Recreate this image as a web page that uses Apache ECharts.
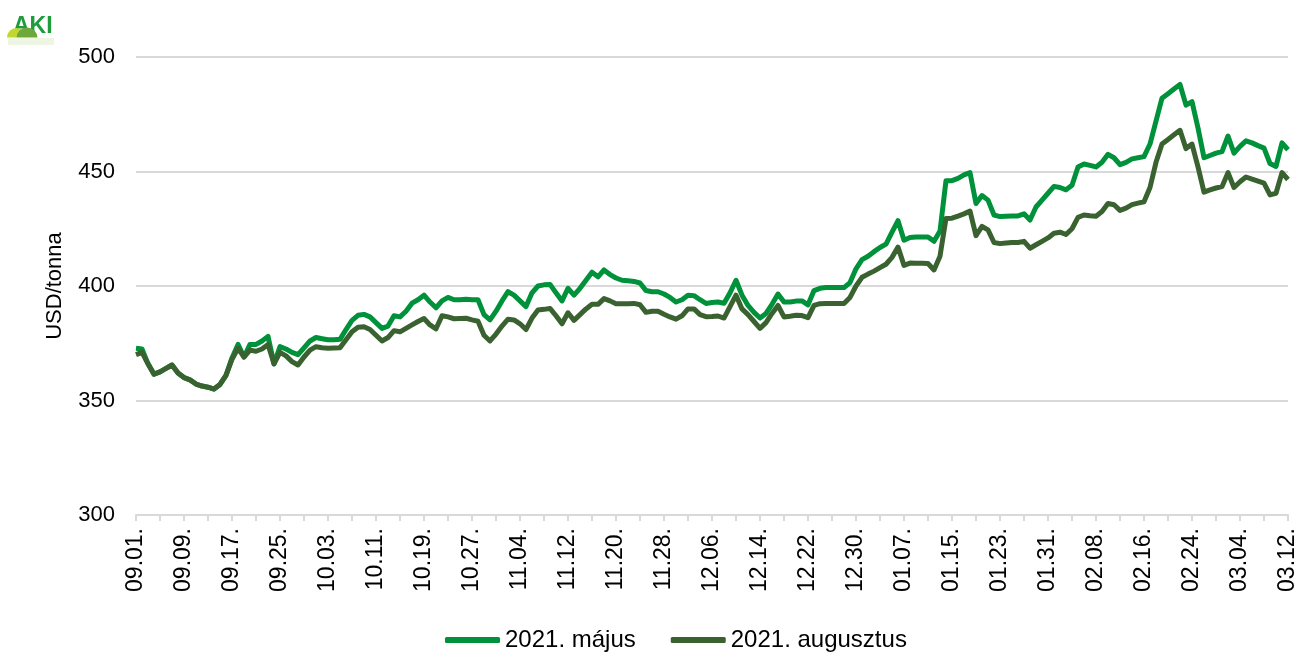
<!DOCTYPE html>
<html>
<head>
<meta charset="utf-8">
<script src="https://cdn.jsdelivr.net/npm/echarts@6/dist/echarts.min.js"></script>
<style>
  html, body { margin: 0; padding: 0; background: #fff; }
  #chart { width: 1300px; height: 655px; }
</style>
</head>
<body>
<div id="chart"></div>
<script>
// napi adatok 2020.09.01. - 2021.03.12. (naptári napok)
const startDate = "2020-09-01";
const dayCount = 193;

const seriesNames = ["2021. május", "2021. augusztus"];

const majus = [
  372.8, 372.5, 366, 361.5, 362.5, 364, 365.5, 362, 360, 359,
  357.2, 356.3, 355.8, 355, 357, 361, 368.6, 374.5, 369, 374.5,
  374.5, 376, 378, 366, 373.5, 372.5, 371, 370, 373, 376,
  377.5, 377, 376.5, 376.5, 376.7, 381, 385, 387.2, 387.6, 386.5,
  384, 381.5, 382.5, 387, 386.5, 389, 392.5, 394, 396, 393,
  390.5, 393.5, 395, 394, 394, 394.2, 394, 394, 387.5, 385.2,
  389, 393.5, 397.5, 396, 393.5, 391, 397, 400, 400.5, 400.7,
  397, 393.5, 399, 396, 399, 402.5, 406, 404, 407, 405,
  403.5, 402.5, 402.3, 402, 401.3, 398, 397.5, 397.5, 396.5, 395,
  393, 394, 396, 395.8, 394, 392.4, 392.8, 393, 392.5, 397,
  402.5, 396, 391.5, 388.5, 386, 388, 392, 396.5, 393, 393,
  393.4, 393.5, 391.8, 398, 399, 399.3, 399.3, 399.3, 399.3, 401.5,
  407.5, 411.5, 413, 415, 416.8, 418.3, 423.5, 428.5, 420, 421.2,
  421.4, 421.4, 421.4, 419.5, 424, 446, 446, 447, 448.5, 449.5,
  436, 439.5, 437.5, 431, 430.3, 430.5, 430.6, 430.6, 431.5, 428.8,
  434.5, 437.5, 440.5, 443.5, 443, 442, 444, 452, 453.3, 452.7,
  452, 454, 457.5, 456, 453, 454, 455.5, 456, 456.5, 462,
  472, 482, 484, 486, 488, 479, 480.5, 469, 456, 457,
  458, 458.7, 465.5, 458, 461, 463.4, 462.5, 461.3, 460.2, 453.5,
  452.2, 462.5, 459.5
];

const augusztus = [
  370, 371, 366, 361.5, 362.5, 364, 365.5, 362, 360, 359,
  357.2, 356.3, 355.8, 355, 357, 361, 368, 372.8, 369, 372,
  371.5, 372.5, 374.4, 366, 371, 369.5, 367, 365.5, 369, 372,
  373.5, 373, 372.8, 372.9, 373, 376.5, 380, 382, 382.2, 381,
  378.5, 376, 377.5, 380.5, 380, 381.5, 383, 384.5, 385.8, 383,
  381.3, 387, 386.5, 385.7, 385.8, 385.9, 385.2, 384.6, 378.5, 376,
  379, 382.5, 385.5, 385.2, 383.5, 381, 386, 389.5, 389.8, 390.2,
  387, 383.5, 388.3, 385, 387.5, 390, 392, 392, 394.5, 393.5,
  392.2, 392.2, 392.3, 392.4, 391.8, 388.5, 389, 389, 387.7, 386.5,
  385.5, 387, 390, 390, 387.5, 386.6, 386.7, 386.9, 386, 391,
  396, 390, 387.5, 384.5, 381.5, 384, 388, 391.5, 386.5, 386.8,
  387.2, 387.1, 386.2, 391.5, 392.3, 392.4, 392.4, 392.4, 392.4, 395,
  400, 403.8, 405.2, 406.5, 408, 409.5, 412.5, 417, 409, 410,
  409.9, 409.9, 409.8, 407, 413, 429.5, 429.6, 430.5, 431.5, 432.7,
  422, 426, 424.5, 419, 418.5, 418.8, 419, 419, 419.5, 416.5,
  418, 419.5, 421, 423, 423.5, 422.5, 425, 430, 431, 430.7,
  430.5, 432.5, 436, 435.5, 433, 434, 435.5, 436.2, 436.8, 443,
  454, 462, 464, 466, 468, 460, 462, 452, 441, 442,
  442.8, 443.4, 449.5, 443, 445.5, 447.6, 446.7, 445.8, 444.9, 439.8,
  440.5, 449.5, 446.5
];

const yTicks = { min: 300, max: 500, step: 50 };
const colors = ["#00913b", "#3a6230"];

function dateLabels(start, n) {
  const out = [];
  const d = new Date(start + "T00:00:00Z");
  for (let i = 0; i < n; i++) {
    const mm = String(d.getUTCMonth() + 1).padStart(2, "0");
    const dd = String(d.getUTCDate()).padStart(2, "0");
    out.push(mm + "." + dd + ".");
    d.setUTCDate(d.getUTCDate() + 1);
  }
  return out;
}
const days = dateLabels(startDate, dayCount);

const font = "Arial, 'Liberation Sans', sans-serif";
const chart = echarts.init(document.getElementById("chart"));
chart.setOption({
  animation: false,
  textStyle: { fontFamily: font },
  graphic: [
    // AKI logo: letters, two mounds in front (cut flat), faint reflection
    { type: "text", left: 13, top: 15, style: { text: "AKI", font: "bold 23px " + font, fill: "#1e9c3c" } },
    { type: "circle", shape: { cx: 16.5, cy: 37.5, r: 9.5 }, style: { fill: "#c3d62e" } },
    { type: "circle", shape: { cx: 27, cy: 38, r: 10.5 }, style: { fill: "#6ea83a" } },
    { type: "rect", shape: { x: 2, y: 37.5, width: 44, height: 12 }, style: { fill: "#fff" } },
    { type: "rect", shape: { x: 8, y: 38, width: 46, height: 7 }, style: { fill: "#eef5e3" } }
  ],
  legend: {
    left: 440,
    bottom: -2,
    itemWidth: 55,
    itemHeight: 6,
    itemGap: 35,
    icon: "roundRect",
    textStyle: { fontSize: 24, color: "#000", fontFamily: font },
    data: seriesNames
  },
  grid: { left: 136, right: 12, top: 57, bottom: 140 },
  xAxis: {
    type: "category",
    boundaryGap: false,
    data: days,
    axisLine: { lineStyle: { color: "#d9d9d9", width: 2 } },
    axisTick: { interval: 3, length: 6, lineStyle: { color: "#d9d9d9", width: 2 } },
    axisLabel: { interval: 7, rotate: 90, fontSize: 23, color: "#000", margin: 13, fontFamily: font },
    splitLine: { show: false }
  },
  yAxis: {
    type: "value",
    min: yTicks.min,
    max: yTicks.max,
    interval: yTicks.step,
    name: "USD/tonna",
    nameLocation: "middle",
    nameGap: 70,
    nameRotate: 90,
    nameTextStyle: { fontSize: 22, color: "#000", fontFamily: font },
    axisLine: { show: false },
    axisTick: { show: false },
    axisLabel: { fontSize: 22, color: "#000", margin: 21, fontFamily: font },
    splitLine: { lineStyle: { color: "#d9d9d9", width: 2 } }
  },
  series: [
    {
      name: seriesNames[0], type: "line", data: majus, showSymbol: false,
      lineStyle: { color: colors[0], width: 5, join: "round" }, itemStyle: { color: colors[0] }
    },
    {
      name: seriesNames[1], type: "line", data: augusztus, showSymbol: false,
      lineStyle: { color: colors[1], width: 5, join: "round" }, itemStyle: { color: colors[1] }
    }
  ]
});
</script>
</body>
</html>
